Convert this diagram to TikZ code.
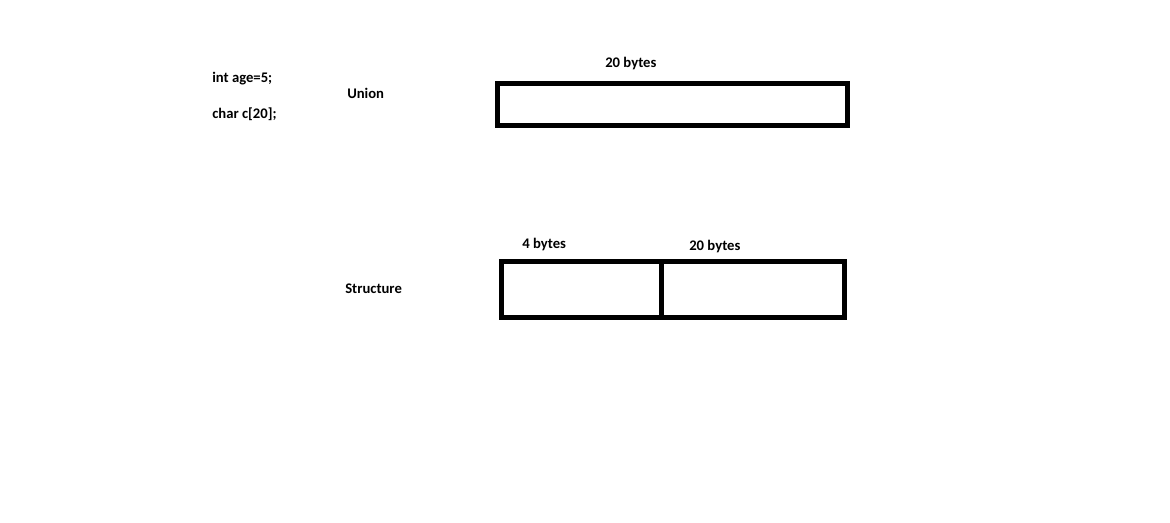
\documentclass[tikz,border=0pt]{standalone}
\usepackage{fontspec}
\setmainfont{Carlito}
\usetikzlibrary{positioning}

\begin{document}
\begin{tikzpicture}[x=0.75pt, y=-0.75pt,
        lbl/.style={font=\bfseries\fontsize{11}{13}\selectfont, inner sep=0pt, anchor=west, yshift=-1.2pt},
        cell/.style={draw=black, line width=3.75pt, outer sep=0pt, inner sep=0pt, anchor=north west}]
        \useasboundingbox (0,0) rectangle (1170,522);
        % code and names
        \node[lbl] (age) at (212,77) {int age=5;};
        \node[lbl] (chr) at (212,113) {char c[20];};
        \node[lbl] (Un) at (347,92) {Union};
        \node[lbl] (St) at (345,287) {Structure};
        
        % boxes
        \node[cell, minimum width=350*0.75pt, minimum height=42*0.75pt] (U) at (497.5,83.5) {};
        \node[cell, minimum width=159.5*0.75pt, minimum height=56*0.75pt] (S1) at (501.5,261.5) {};
        \node[cell, minimum width=183.5*0.75pt, minimum height=56*0.75pt] (S2) at (S1.north east) {};
        
        % sizes
        \node[lbl] (Ub) at (605,62) {20 bytes};
        \node[lbl] (S1b) at (522,243) {4 bytes};
        \node[lbl] (S2b) at (689,245) {20 bytes};
\end{tikzpicture}
\end{document}
